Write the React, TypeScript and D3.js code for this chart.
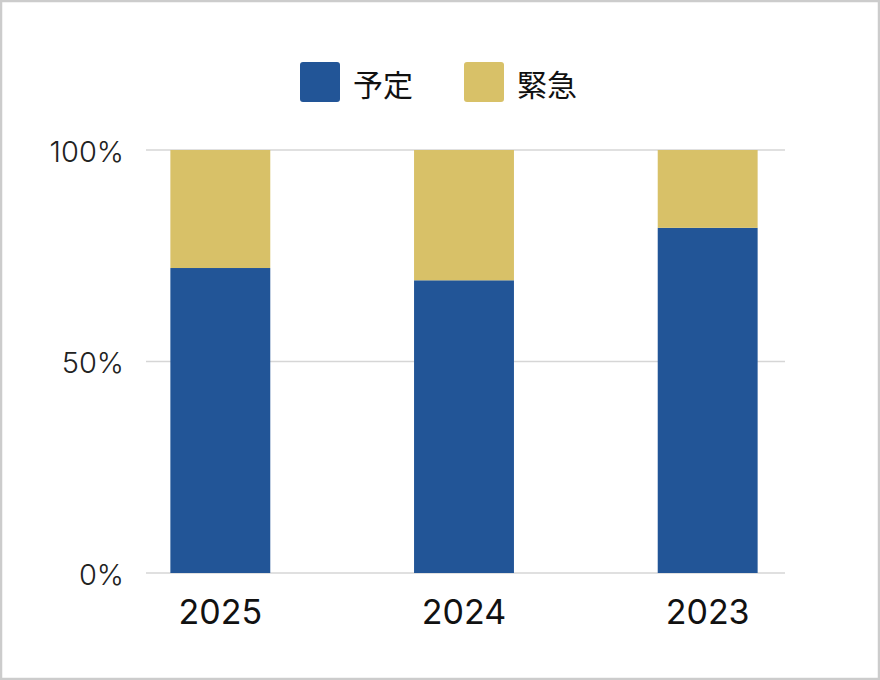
import { useEffect, useRef } from 'react';
import * as d3 from 'd3';

const years = ['2025', '2024', '2023'];
const planned = [72.1, 69.2, 81.6];
const urgent = [27.9, 30.8, 18.4];
const seriesNames = ['予定', '緊急'];
const seriesColors = ['#225597', '#d8c168'];
const yTicks = [0, 50, 100];

const W = 880;
const H = 680;
const FONT = '"Noto Sans CJK JP", "Noto Sans", sans-serif';
const NUM_FONT = 'Inter, "Noto Sans", sans-serif';

export default function App() {
  const svgRef = useRef<SVGSVGElement>(null);

  useEffect(() => {
    if (!svgRef.current) return;
    const svg = d3.select(svgRef.current);
    svg.selectAll('*').remove();

    // frame
    svg.append('rect')
      .attr('x', 1).attr('y', 1)
      .attr('width', W - 2).attr('height', H - 2)
      .attr('fill', '#fff')
      .attr('stroke', '#cccccc')
      .attr('stroke-width', 2.5);

    const left = 146;
    const right = 785;
    const top = 150;
    const bottom = 573;

    const x = d3.scaleBand<string>()
      .domain(years)
      .range([left, right - 3])
      .paddingInner(0.59)
      .paddingOuter(0.1);

    const y = d3.scaleLinear().domain([0, 100]).range([bottom, top]);

    // grid
    svg.append('g')
      .selectAll('line')
      .data(yTicks)
      .join('line')
      .attr('x1', left)
      .attr('x2', right)
      .attr('y1', d => y(d))
      .attr('y2', d => y(d))
      .attr('stroke', '#d6d6d6')
      .attr('stroke-width', 1.5);

    svg.append('g')
      .selectAll('text')
      .data(yTicks)
      .join('text')
      .attr('x', 124)
      .attr('y', d => y(d) + 1)
      .attr('text-anchor', 'end')
      .attr('dominant-baseline', 'central')
      .attr('font-family', NUM_FONT)
      .attr('font-size', 29)
      .attr('font-weight', 300)
      .attr('fill', '#222')
      .text(d => `${d}%`);

    // stacked bars
    const rows = years.map((yr, i) => ({ year: yr, 予定: planned[i], 緊急: urgent[i] }));
    const stacked = d3.stack<any>().keys(seriesNames)(rows);

    svg.append('g')
      .selectAll('g')
      .data(stacked)
      .join('g')
      .attr('fill', (_d, i) => seriesColors[i])
      .selectAll('rect')
      .data(d => d)
      .join('rect')
      .attr('x', d => x(d.data.year)!)
      .attr('width', x.bandwidth())
      .attr('y', d => y(d[1]))
      .attr('height', d => y(d[0]) - y(d[1]));

    // x labels
    svg.append('g')
      .selectAll('text')
      .data(years)
      .join('text')
      .attr('x', d => x(d)! + x.bandwidth() / 2)
      .attr('y', 611)
      .attr('text-anchor', 'middle')
      .attr('dominant-baseline', 'central')
      .attr('font-family', NUM_FONT)
      .attr('font-size', 34)
      .attr('fill', '#111')
      .text(d => d);

    // legend
    const legendX = [300, 464];
    const lg = svg.append('g')
      .selectAll('g')
      .data(seriesNames)
      .join('g')
      .attr('transform', (_d, i) => `translate(${legendX[i]},62)`);
    lg.append('rect')
      .attr('width', 40)
      .attr('height', 40)
      .attr('rx', 3)
      .attr('fill', (_d, i) => seriesColors[i]);
    lg.append('text')
      .attr('x', 53)
      .attr('y', 21)
      .attr('dominant-baseline', 'central')
      .attr('font-family', FONT)
      .attr('font-size', 30)
      .attr('fill', '#111')
      .text(d => d);
  }, []);

  return (
    <svg
      ref={svgRef}
      width={W}
      height={H}
      style={{ position: 'absolute', left: 0, top: 0, display: 'block' }}
    />
  );
}
